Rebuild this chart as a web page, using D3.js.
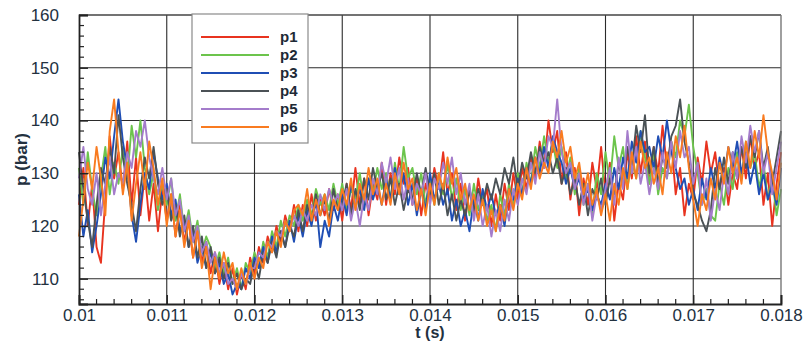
<!DOCTYPE html>
<html>
<head>
<meta charset="utf-8">
<script src="https://cdn.jsdelivr.net/npm/d3@7"></script>
<style>
  html, body { margin: 0; padding: 0; background: #fff; }
  svg { display: block; }
</style>
</head>
<body>
<svg id="chart" width="807" height="344"></svg>
<script>
// Pressure traces p1..p6, sampled every 0.00005 s from 0.010 s to 0.018 s
const tStart = 0.010;
const tStep = 0.00005;

const p1 = [
  124,131,120,128,116,113,125,137,129,134,
  127,136,124,133,122,130,121,128,119,127,
  121,126,118,124,117,121,114,119,113,117,
  111,115,109,113,108,112,107,111,108,114,
  111,116,113,118,115,120,117,122,119,124,
  119,124,120,126,121,125,122,127,123,126,
  121,128,123,131,124,129,122,128,125,132,
  124,130,126,133,128,131,124,129,122,128,
  125,131,127,134,126,130,123,128,121,127,
  122,129,124,127,120,126,121,128,123,130,
  125,131,127,133,129,136,131,140,134,138,
  128,134,125,131,122,129,124,132,127,135,
  126,132,121,128,125,134,129,137,130,136,
  128,135,130,139,131,136,126,131,122,128,
  125,133,128,136,130,134,127,131,124,130,
  127,135,129,137,131,134,124,130,120,128,
  134
];
const p2 = [
  131,124,134,127,122,129,135,126,132,128,
  135,129,139,133,140,131,126,130,123,128,
  124,129,121,126,119,123,117,121,115,118,
  116,112,115,111,114,109,112,108,113,111,
  115,112,117,114,119,116,121,118,122,120,
  124,121,125,122,127,124,126,123,128,124,
  128,123,127,125,130,124,129,126,131,127,
  130,125,132,127,135,129,131,126,130,124,
  129,124,130,126,132,125,129,123,127,122,
  128,123,126,121,124,119,126,122,128,124,
  130,126,132,128,135,131,137,132,136,131,
  135,129,133,126,131,124,128,122,130,126,
  134,128,137,131,135,127,133,129,138,133,
  128,134,126,131,129,136,133,140,137,143,
  135,130,124,127,122,121,128,124,131,127,
  134,129,136,131,134,127,132,125,129,122,
  127
];
const p3 = [
  126,118,123,115,120,126,133,129,137,144,
  136,131,122,117,124,130,127,134,129,125,
  128,122,125,119,121,116,119,113,116,112,
  115,111,113,109,111,107,109,108,112,110,
  114,112,116,113,118,115,119,116,121,117,
  122,118,123,120,125,116,121,118,124,121,
  126,122,128,124,127,123,129,125,128,124,
  129,125,131,126,130,124,128,122,127,123,
  130,125,128,124,127,121,125,120,123,119,
  125,121,127,123,126,122,124,120,127,125,
  129,126,131,128,133,130,135,131,137,134,
  132,128,131,127,129,125,127,123,126,124,
  128,125,131,127,133,129,136,132,138,134,
  135,131,137,133,140,134,131,127,129,124,
  127,123,129,125,131,127,133,129,135,131,
  136,130,134,128,132,126,130,125,128,124,
  131
];
const p4 = [
  134,127,121,116,124,131,128,135,130,141,
  133,128,124,119,127,133,129,135,128,124,
  127,121,124,118,122,116,120,114,118,112,
  116,111,114,110,113,109,111,108,110,109,
  113,110,115,113,117,114,119,116,120,118,
  123,119,124,121,126,122,125,121,127,123,
  124,128,122,127,123,129,125,131,127,130,
  125,129,124,128,123,127,125,130,126,131,
  126,130,124,128,122,126,121,125,122,127,
  123,127,124,128,125,129,126,131,128,133,
  127,132,129,134,130,135,132,134,130,133,
  128,131,126,129,124,128,122,127,125,129,
  124,129,126,132,128,135,131,139,134,141,
  130,135,128,133,131,137,139,144,136,132,
  126,124,121,119,123,131,127,133,128,134,
  129,135,131,137,133,138,131,135,128,133,
  138
];
const p5 = [
  129,135,127,124,130,122,128,133,126,130,
  128,134,131,138,135,140,133,129,126,131,
  125,129,122,125,119,122,117,120,115,117,
  113,115,111,113,109,110,108,111,109,112,
  112,115,114,117,116,119,118,121,119,122,
  120,123,121,124,122,126,123,127,124,126,
  123,127,121,125,120,126,123,129,126,132,
  128,133,127,131,125,129,124,128,126,130,
  124,129,127,132,128,133,126,130,124,128,
  121,126,120,124,118,123,119,125,121,127,
  124,129,126,132,128,134,131,137,135,144,
  134,130,132,127,130,124,128,121,126,123,
  127,131,124,133,127,138,130,135,128,132,
  126,131,127,134,129,136,131,138,133,135,
  128,132,124,129,121,127,123,130,126,134,
  129,137,132,139,134,138,130,134,126,131,
  136
];
const p6 = [
  118,125,132,127,135,129,122,138,144,134,
  126,132,121,128,134,127,136,131,124,129,
  120,126,118,123,116,121,114,119,112,116,
  108,114,110,115,111,113,108,112,109,113,
  110,114,112,117,115,119,116,121,119,123,
  124,122,127,121,125,122,126,120,125,123,
  127,124,129,123,128,125,131,126,129,124,
  128,124,130,126,132,127,129,123,127,122,
  128,124,130,127,133,128,131,125,128,123,
  126,121,125,120,123,119,124,121,127,123,
  128,125,131,127,133,129,132,130,136,133,
  138,132,135,129,132,126,130,124,127,122,
  126,121,128,124,131,127,134,129,136,131,
  133,128,131,126,134,130,137,133,139,131,
  125,120,126,123,129,125,132,128,135,130,
  133,128,136,131,138,133,141,134,130,125,
  132
];

const seriesNames = ["p1", "p2", "p3", "p4", "p5", "p6"];
const seriesValues = [p1, p2, p3, p4, p5, p6];
const seriesColors = ["#e8331f", "#6cc44c", "#1f4eb4", "#4b5256", "#a47ccb", "#f97b20"];

const xTicks = [0.010, 0.011, 0.012, 0.013, 0.014, 0.015, 0.016, 0.017, 0.018];
const xTickLabels = ["0.01", "0.011", "0.012", "0.013", "0.014", "0.015", "0.016", "0.017", "0.018"];
const yTicks = [110, 120, 130, 140, 150, 160];

const svg = d3.select("#chart");
const margin = { left: 79, right: 26, top: 15, bottom: 40 };
const W = 807, H = 344;
const plotW = W - margin.left - margin.right;
const plotH = H - margin.top - margin.bottom;

const x = d3.scaleLinear().domain([0.010, 0.018]).range([margin.left, margin.left + plotW]);
const y = d3.scaleLinear().domain([105.2, 160]).range([margin.top + plotH, margin.top]);

const labelColor = "#23313f";
const font = "Arial, 'Liberation Sans', sans-serif";

// grid lines
const grid = svg.append("g");
grid.selectAll("line.gx").data(xTicks.slice(1, -1)).join("line")
  .attr("x1", d => x(d)).attr("x2", d => x(d))
  .attr("y1", margin.top).attr("y2", margin.top + plotH)
  .attr("stroke", "#2b2b2b").attr("stroke-width", 1.1);
grid.selectAll("line.gy").data(yTicks.slice(0, -1)).join("line")
  .attr("x1", margin.left).attr("x2", margin.left + plotW)
  .attr("y1", d => y(d)).attr("y2", d => y(d))
  .attr("stroke", "#2b2b2b").attr("stroke-width", 1.1);

// traces
const line = d3.line()
  .x((d, i) => x(tStart + i * tStep))
  .y(d => y(d));

const traces = svg.append("g");
seriesValues.forEach((vals, k) => {
  traces.append("path")
    .datum(vals)
    .attr("d", line)
    .attr("fill", "none")
    .attr("stroke", seriesColors[k])
    .attr("stroke-width", 1.9)
    .attr("stroke-linejoin", "round");
});

// frame
svg.append("line").attr("x1", margin.left).attr("x2", margin.left + plotW)
  .attr("y1", margin.top).attr("y2", margin.top).attr("stroke", "#444").attr("stroke-width", 1.4);
svg.append("line").attr("x1", margin.left + plotW).attr("x2", margin.left + plotW)
  .attr("y1", margin.top).attr("y2", margin.top + plotH).attr("stroke", "#777").attr("stroke-width", 1.4);

// left axis (ticks drawn inward)
const yMinor = d3.range(106, 160, 2);
const yAxis = d3.axisLeft(y).tickValues(yTicks).tickSize(-9).tickPadding(20).tickFormat(d3.format("d"));
const gy = svg.append("g").attr("transform", `translate(${margin.left},0)`).call(yAxis);
gy.selectAll("path.domain").attr("stroke", "#222").attr("stroke-width", 1.8);
gy.selectAll(".tick line").attr("stroke", "#222").attr("stroke-width", 1.4);
gy.selectAll("text").attr("fill", labelColor).style("font", `17px ${font}`);
svg.append("g").selectAll("line").data(yMinor.filter(v => v % 10 !== 0)).join("line")
  .attr("x1", margin.left).attr("x2", margin.left + 5)
  .attr("y1", d => y(d)).attr("y2", d => y(d))
  .attr("stroke", "#222").attr("stroke-width", 1.2);

// bottom axis (ticks drawn inward)
const xAxis = d3.axisBottom(x).tickValues(xTicks).tickSize(-9).tickPadding(3)
  .tickFormat((d, i) => xTickLabels[i]);
const gx = svg.append("g").attr("transform", `translate(0,${margin.top + plotH})`).call(xAxis);
gx.selectAll("path.domain").attr("stroke", "#222").attr("stroke-width", 1.8);
gx.selectAll(".tick line").attr("stroke", "#222").attr("stroke-width", 1.4);
gx.selectAll("text").attr("fill", labelColor).style("font", `17px ${font}`).attr("dy", "0.8em");
const xMinor = d3.range(0, 41).map(i => 0.010 + i * 0.0002).filter((v, i) => i % 5 !== 0);
svg.append("g").selectAll("line").data(xMinor).join("line")
  .attr("x1", d => x(d)).attr("x2", d => x(d))
  .attr("y1", margin.top + plotH).attr("y2", margin.top + plotH - 5)
  .attr("stroke", "#222").attr("stroke-width", 1.2);

// axis titles
svg.append("text")
  .attr("x", margin.left + plotW / 2).attr("y", 338)
  .attr("text-anchor", "middle")
  .attr("fill", labelColor)
  .style("font", `bold 16px ${font}`)
  .text("t (s)");
svg.append("text")
  .attr("transform", `translate(27,${margin.top + plotH / 2}) rotate(-90)`)
  .attr("text-anchor", "middle")
  .attr("fill", labelColor)
  .style("font", `bold 17px ${font}`)
  .text("p (bar)");

// legend
const legend = svg.append("g").attr("transform", "translate(192,14)");
legend.append("rect").attr("width", 116).attr("height", 129)
  .attr("fill", "#fff").attr("stroke", "#8a8a8a").attr("stroke-width", 1.2);
seriesNames.forEach((name, k) => {
  const ly = 23 + k * 18;
  legend.append("line").attr("x1", 9).attr("x2", 77).attr("y1", ly).attr("y2", ly)
    .attr("stroke", seriesColors[k]).attr("stroke-width", 1.8);
  legend.append("text").attr("x", 88).attr("y", ly + 5)
    .attr("fill", "#1e2a36")
    .style("font", `bold 15px ${font}`)
    .text(name);
});
</script>
</body>
</html>
